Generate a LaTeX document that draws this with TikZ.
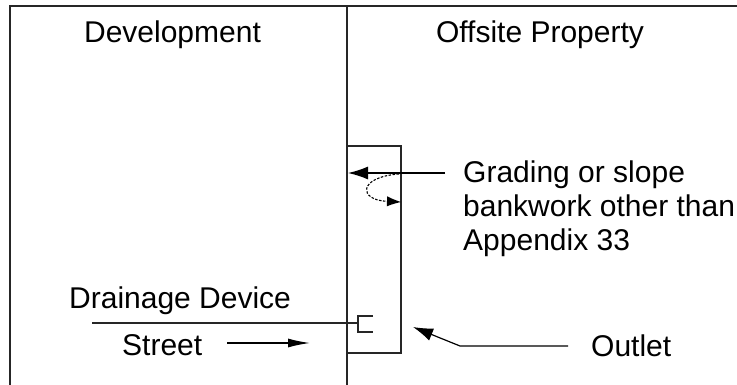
\documentclass[tikz,border=0pt]{standalone}
\usepackage{fontspec}
\setmainfont{Liberation Sans}
\usetikzlibrary{arrows.meta}
\begin{document}
\begin{tikzpicture}[x=1pt,y=-1pt,
  wall/.style={line width=1.6pt,color=black!85},
  lbl/.style={inner sep=0pt,anchor=base west,font=\fontsize{30}{34}\selectfont},
  ptr/.style={line width=1.4pt,-{Latex[length=20pt,width=13pt]}},
  strarrow/.style={line width=1.4pt,-{Latex[length=22pt,width=9pt]}},
  loop/.style={line width=1.1pt,dash pattern=on 2.5pt off 1.5pt,-{Latex[length=14pt,width=10pt,line width=0pt,fill=black]}}]
\useasboundingbox (0,0) rectangle (737,385);
% frame
\coordinate (tl) at (10,6);
\coordinate (tr) at (737,6);
\coordinate (bl) at (10,385);
\coordinate (mt) at (347,6);
\coordinate (mb) at (347,385);
\draw[wall] (bl) -- (tl) -- (tr);
\draw[wall] (mt) -- (mb);
% offsite box
\coordinate (boxtl) at (347,146);
\coordinate (boxtr) at (401,146);
\coordinate (boxbr) at (401,353);
\coordinate (boxbl) at (347,353);
\draw[wall] (boxtl) -- (boxtr) -- (boxbr) -- (boxbl);
% headings
\node[lbl,anchor=base] (dev) at (172.5,43) {Development};
\node[lbl,anchor=base] (off) at (540,43) {Offsite Property};
% grading label
\node[lbl] (grad1) at (463,183) {Grading or slope};
\node[lbl] (grad2) at (463,217) {bankwork other than};
\node[lbl] (grad3) at (463,251) {Appendix 33};
\coordinate (gstart) at (445,173);
\coordinate (gtip) at (348,173);
\draw[ptr] (gstart) -- (gtip);
\coordinate (lstart) at (399,174);
\coordinate (lend) at (401,202);
\draw[loop] (lstart) .. controls (358,177) and (358,200) .. (lend);
% drainage device
\node[lbl] (drain) at (69,308) {Drainage Device};
\coordinate (dstart) at (92,323);
\coordinate (dend) at (358,323);
\draw[wall,line width=1.5pt] (dstart) -- (dend);
\coordinate (bt) at (373,316);
\coordinate (bb) at (373,332);
\draw[wall,line width=1.5pt] (bt) -- (358,316) -- (358,332) -- (bb);
% street
\node[lbl] (street) at (122,355) {Street};
\coordinate (sstart) at (227,343);
\coordinate (send) at (310,343);
\draw[strarrow] (sstart) -- (send);
% outlet
\node[lbl] (outlet) at (591,356) {Outlet};
\coordinate (ostart) at (568,346);
\coordinate (obend) at (460,346);
\coordinate (otip) at (413,327);
\draw[ptr,line width=1.2pt] (ostart) -- (obend) -- (otip);
\end{tikzpicture}
\end{document}
